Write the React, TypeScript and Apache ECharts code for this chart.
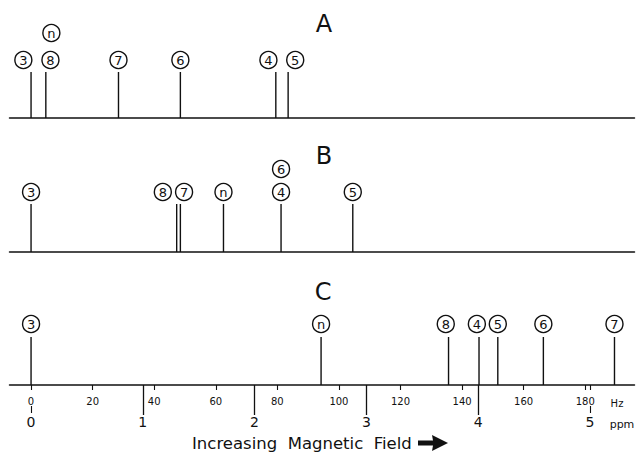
import React, { useEffect, useRef } from "react";
import * as echarts from "echarts";

// ---- data (Hz) ----
const hzMin = -7;
const hzMax = 196;
const hzPerPpm = 36.3;
const hzTicks = [0, 20, 40, 60, 80, 100, 120, 140, 160, 180];
const ppmTicks = [0, 1, 2, 3, 4, 5];

const stemsA = [0, 4.8, 28.4, 48.5, 79.5, 83.5];
const labelsA = ["3", "8", "n", "7", "6", "4", "5"];
const labelXA = [-2.5, 6.3, 6.6, 28.4, 48.5, 77.1, 85.8];
const labelYA = [58, 58, 85, 58, 58, 58, 58];

const stemsB = [0, 47.3, 48.5, 62.5, 81.2, 104.5];
const labelsB = ["3", "8", "7", "n", "4", "6", "5"];
const labelXB = [0, 42.8, 49.7, 62.5, 81.2, 81.2, 104.5];
const labelYB = [60, 60, 60, 60, 60, 83, 60];

const stemsC = [0, 94.2, 135.6, 145.5, 151.6, 166.4, 189.5];
const labelsC = ["3", "n", "8", "4", "5", "6", "7"];
const labelXC = [0, 94.2, 134.7, 144.8, 151.6, 166.4, 189.5];
const labelYC = [61, 61, 61, 61, 61, 61, 61];

const stemHeights = [46, 48, 48];
const panelNames = ["A", "B", "C"];

const FONT = "DejaVu Sans";
const INK = "#111";

export default function App() {
  const ref = useRef<HTMLDivElement>(null);
  useEffect(() => {
    if (!ref.current) return;
    const chart = echarts.init(ref.current, undefined, { renderer: "svg" });

    const gridTops = [18, 152, 285];
    const grids = gridTops.map((t) => ({ left: 9.5, width: 625, top: t, height: 100 }));

    const baseX = (gi: number) => ({
      type: "value",
      gridIndex: gi,
      min: hzMin,
      max: hzMax,
      axisLine: { show: true, lineStyle: { color: INK, width: 1.5 } },
      axisTick: { show: false },
      axisLabel: { show: false },
      splitLine: { show: false },
    });

    const xAxes: any[] = [
      baseX(0),
      baseX(1),
      {
        ...baseX(2),
        axisTick: { show: true, customValues: hzTicks, length: 5, lineStyle: { color: INK, width: 1.1 } },
        axisLabel: {
          show: true,
          customValues: hzTicks,
          margin: 11,
          fontSize: 10,
          fontFamily: FONT,
          color: INK,
        },
      },
      {
        type: "value",
        gridIndex: 2,
        position: "bottom",
        min: hzMin / hzPerPpm,
        max: hzMax / hzPerPpm,
        axisLine: { show: false },
        axisTick: { show: true, customValues: [1, 2, 3, 4], length: 30, lineStyle: { color: INK, width: 1.3 } },
        axisLabel: { show: true, customValues: ppmTicks, margin: 30, fontSize: 14, fontFamily: FONT, color: INK },
        splitLine: { show: false },
      },
      {
        type: "value",
        gridIndex: 2,
        position: "bottom",
        min: hzMin / hzPerPpm,
        max: hzMax / hzPerPpm,
        axisLine: { show: false },
        axisTick: { show: true, customValues: [5], length: 5, lineStyle: { color: INK, width: 1.1 } },
        axisLabel: { show: false },
        splitLine: { show: false },
      },
      {
        type: "value",
        gridIndex: 2,
        position: "bottom",
        offset: 21,
        min: hzMin / hzPerPpm,
        max: hzMax / hzPerPpm,
        axisLine: { show: false },
        axisTick: { show: true, customValues: [0, 5], length: 7, lineStyle: { color: INK, width: 1.1 } },
        axisLabel: { show: false },
        splitLine: { show: false },
      },
    ];

    const yAxes = [0, 1, 2].map((gi) => ({ type: "value", gridIndex: gi, min: 0, max: 100, show: false }));

    const stems = [stemsA, stemsB, stemsC];
    const names = [labelsA, labelsB, labelsC];
    const lx = [labelXA, labelXB, labelXC];
    const ly = [labelYA, labelYB, labelYC];

    const series: any[] = [];
    [0, 1, 2].forEach((i) => {
      series.push({
        type: "custom",
        xAxisIndex: i,
        yAxisIndex: i,
        data: stems[i].map((h) => [h, stemHeights[i]]),
        renderItem: (_p: any, api: any) => {
          const a = api.coord([api.value(0), 0]);
          const b = api.coord([api.value(0), api.value(1)]);
          return {
            type: "line",
            shape: { x1: a[0], y1: a[1], x2: b[0], y2: b[1] },
            style: { stroke: INK, lineWidth: 1.4 },
          };
        },
        z: 2,
      });
      series.push({
        type: "scatter",
        xAxisIndex: i,
        yAxisIndex: i,
        symbol: "circle",
        symbolSize: 17,
        itemStyle: { color: "#fff", borderColor: INK, borderWidth: 1.4, opacity: 1 },
        label: {
          show: true,
          position: "inside",
          formatter: "{b}",
          color: INK,
          fontSize: 13,
          fontFamily: FONT,
        },
        data: names[i].map((n, k) => ({ name: n, value: [lx[i][k], ly[i][k]] })),
        z: 3,
      });
    });

    const letterPos = [
      [324, 24],
      [324, 156],
      [323, 292],
    ];

    const graphic: any[] = panelNames.map((t, i) => ({
      type: "text",
      x: letterPos[i][0],
      y: letterPos[i][1],
      style: {
        text: t,
        font: `24px "${FONT}"`,
        fill: INK,
        textAlign: "center",
        textVerticalAlign: "middle",
      },
    }));
    graphic.push(
      {
        type: "text",
        x: 617,
        y: 403,
        style: { text: "Hz", font: `10px "${FONT}"`, fill: INK, textAlign: "center", textVerticalAlign: "middle" },
      },
      {
        type: "text",
        x: 622,
        y: 424,
        style: { text: "ppm", font: `11px "${FONT}"`, fill: INK, textAlign: "center", textVerticalAlign: "middle" },
      },
      {
        type: "text",
        x: 192,
        y: 443,
        style: {
          text: "Increasing  Magnetic  Field",
          font: `16.5px "${FONT}"`,
          fill: INK,
          textAlign: "left",
          textVerticalAlign: "middle",
        },
      },
      {
        type: "polygon",
        shape: {
          points: [
            [418, 440.5],
            [433, 440.5],
            [432, 435],
            [448, 443],
            [432, 451],
            [433, 445.5],
            [418, 445.5],
          ],
        },
        style: { fill: INK },
      }
    );

    chart.setOption({
      animation: false,
      backgroundColor: "#fff",
      grid: grids,
      xAxis: xAxes,
      yAxis: yAxes,
      series,
      graphic,
    });
    return () => chart.dispose();
  }, []);

  return (
    <div
      ref={ref}
      style={{ position: "fixed", left: 0, top: 0, width: 639, height: 456, background: "#fff" }}
    />
  );
}
